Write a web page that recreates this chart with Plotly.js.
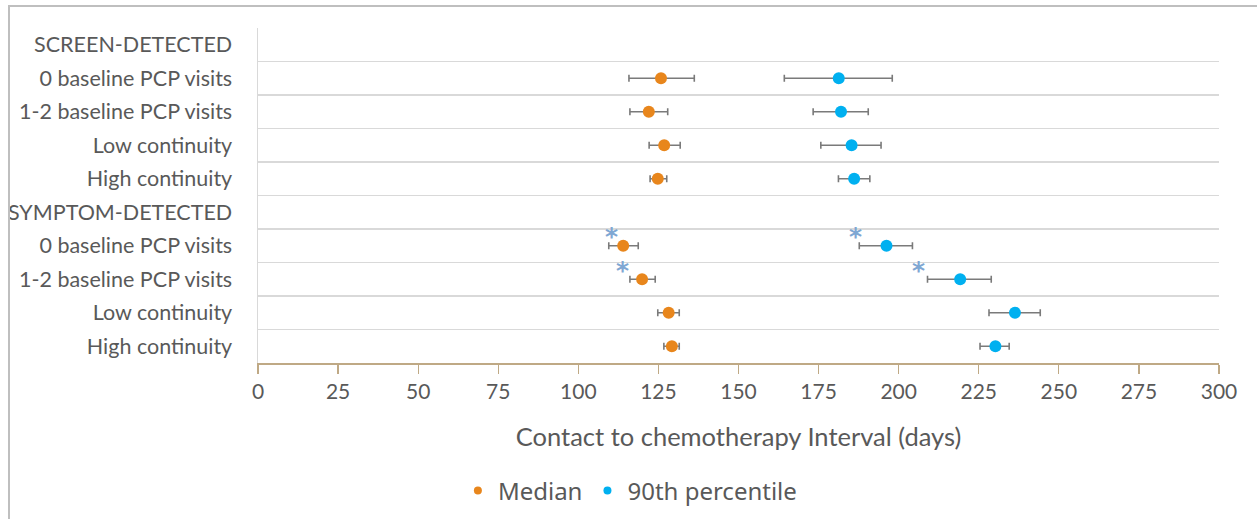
<!DOCTYPE html>
<html>
<head>
<meta charset="utf-8">
<script src="https://cdn.plot.ly/plotly-3.0.1.min.js"></script>
<style>
  html, body { margin: 0; padding: 0; background: #ffffff; }
  #wrap { position: relative; width: 1257px; height: 519px; overflow: hidden; }
  #chart { position: absolute; left: 0; top: 0; width: 1257px; height: 519px; }
  #frame { position: absolute; left: 8px; top: 5px; width: 1300px; height: 600px;
           border-left: 2px solid #bfbfbf; border-top: 2px solid #bfbfbf; pointer-events: none; }
</style>
</head>
<body>
<div id="wrap">
  <div id="chart"></div>
  <div id="frame"></div>
</div>
<script>
// ---- data ----
const rowLabels = [
  "SCREEN-DETECTED",
  "0 baseline PCP visits",
  "1-2 baseline PCP visits",
  "Low continuity",
  "High continuity",
  "SYMPTOM-DETECTED",
  "0 baseline PCP visits",
  "1-2 baseline PCP visits",
  "Low continuity",
  "High continuity"
];
// null = header row without data
const medianVal = [null, 125.8, 122.0, 126.8, 124.8, null, 114.0, 119.9, 128.2, 129.2];
const medianLo  = [null, 115.8, 116.1, 122.1, 122.4, null, 109.5, 116.1, 124.8, 126.7];
const medianHi  = [null, 136.2, 127.9, 131.8, 127.6, null, 118.7, 124.0, 131.5, 131.5];
const p90Val    = [null, 181.3, 182.0, 185.3, 186.1, null, 196.2, 219.2, 236.3, 230.2];
const p90Lo     = [null, 164.3, 173.3, 175.7, 181.2, null, 187.7, 209.0, 228.2, 225.4];
const p90Hi     = [null, 198.0, 190.5, 194.5, 191.0, null, 204.3, 228.9, 244.2, 234.5];
// significance asterisks: x position (days) where each asterisk sits, null = none
const medianStarX = [null, null, null, null, null, null, 110.2, 113.7, null, null];
const p90StarX    = [null, null, null, null, null, null, 186.6, 206.2, null, null];
const xTicks = [0, 25, 50, 75, 100, 125, 150, 175, 200, 225, 250, 275, 300];
const xTitle = "Contact to chemotherapy Interval (days)";
const seriesNames = ["Median", "90th percentile"];

// ---- styling ----
const ORANGE = "#E8861C";
const BLUE = "#00B0F0";
const ERR = "#7a7a7a";
const TXT = "#595959";
const STAR = "#7FA7D3";

const rows = rowLabels.map((_, i) => i);

function errTrace(vals, lo, hi, color) {
  return {
    type: "scatter", mode: "markers",
    x: vals, y: rows, showlegend: false, hoverinfo: "skip",
    marker: { color: color, size: 12, line: { width: 0 } },
    error_x: {
      type: "data", symmetric: false,
      array: vals.map((v, i) => v == null ? null : hi[i] - v),
      arrayminus: vals.map((v, i) => v == null ? null : v - lo[i]),
      color: ERR, thickness: 1.6, width: 3.5
    }
  };
}

const traces = [
  errTrace(medianVal, medianLo, medianHi, ORANGE),
  errTrace(p90Val, p90Lo, p90Hi, BLUE),
  { type: "scatter", mode: "markers", x: [null], y: [null], name: seriesNames[0],
    marker: { color: ORANGE, size: 8 } },
  { type: "scatter", mode: "markers", x: [null], y: [null], name: seriesNames[1],
    marker: { color: BLUE, size: 8 } }
];

const annotations = [];
function addStars(starX) {
  starX.forEach((sx, i) => {
    if (sx != null) annotations.push({
      x: sx, y: i, xref: "x", yref: "y", text: "<b>*</b>", showarrow: false,
      yshift: 9,
      font: { family: "DejaVu Sans", size: 25, color: STAR }
    });
  });
}
addStars(medianStarX);
addStars(p90StarX);

const layout = {
  width: 1257, height: 519,
  margin: { l: 258, r: 38, t: 28, b: 156 },
  paper_bgcolor: "#ffffff", plot_bgcolor: "#ffffff",
  font: { family: "Lato, sans-serif", color: TXT, size: 21 },
  showlegend: true,
  legend: {
    orientation: "h", x: 0.208, xanchor: "left",
    yref: "container", y: 0.054, yanchor: "middle",
    font: { family: "Noto Sans, sans-serif", size: 24, color: TXT },
    itemwidth: 30
  },
  xaxis: {
    range: [0, 300], tickmode: "array", tickvals: xTicks,
    showgrid: false, zeroline: false, automargin: false,
    showline: true, linecolor: "#BFA985", linewidth: 1.5,
    ticks: "outside", ticklen: 9, tickwidth: 1.2, tickcolor: "#BFA985",
    tickfont: { size: 21, color: TXT },
    title: { text: xTitle, font: { size: 25.5, color: TXT }, standoff: 26 }
  },
  yaxis: {
    range: [9.5, -0.5], tickmode: "array", tickvals: rows, ticktext: rowLabels,
    showgrid: false, zeroline: false, automargin: false,
    showline: true, linecolor: "#d9d9d9", linewidth: 1.5,
    ticks: "", ticklabelstandoff: 20,
    tickfont: { size: 21.5, color: TXT },
    minor: { tick0: -0.5, dtick: 1, showgrid: true, gridcolor: "#d9d9d9", gridwidth: 1.5, ticks: "" }
  },
  annotations: annotations
};

Plotly.newPlot("chart", traces, layout, { staticPlot: true, displayModeBar: false });
</script>
</body>
</html>
